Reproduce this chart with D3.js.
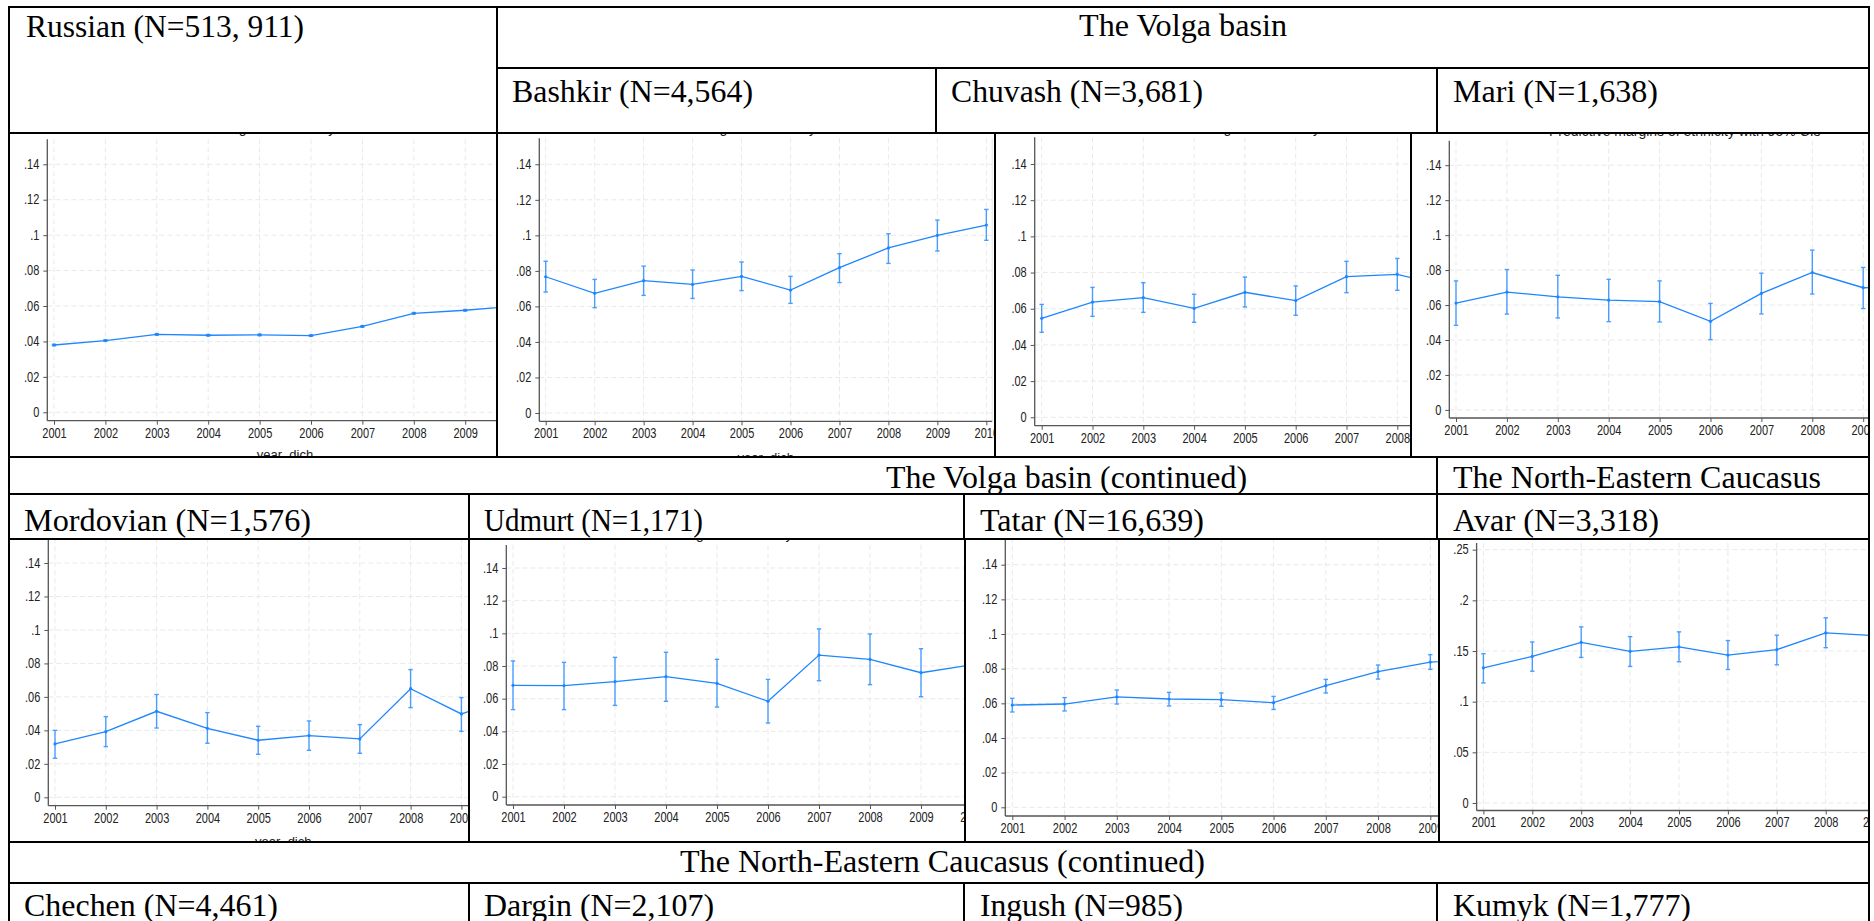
<!DOCTYPE html>
<html><head><meta charset="utf-8">
<script src="https://cdn.jsdelivr.net/npm/d3@7"></script>
<style>body{margin:0;background:#fff;overflow:hidden}svg{display:block}</style>
</head><body>
<svg id="c" width="1874" height="921"></svg>
<script>
// ---------------- DATA ----------------
const years = [2001, 2002, 2003, 2004, 2005, 2006, 2007, 2008, 2009, 2010];
const yTicksMain = [0, 0.02, 0.04, 0.06, 0.08, 0.10, 0.12, 0.14];
const yTicksAvar = [0, 0.05, 0.10, 0.15, 0.20, 0.25];

const russianEst = [0.0380, 0.0405, 0.0440, 0.0435, 0.0437, 0.0433, 0.0485, 0.0559, 0.0576, 0.0600];
const russianLo  = [0.0376, 0.0401, 0.0436, 0.0431, 0.0433, 0.0429, 0.0481, 0.0555, 0.0572, 0.0596];
const russianHi  = [0.0384, 0.0409, 0.0444, 0.0439, 0.0441, 0.0437, 0.0489, 0.0563, 0.0580, 0.0604];

const bashkirEst = [0.0767, 0.0674, 0.0745, 0.0724, 0.0769, 0.0692, 0.0818, 0.0929, 0.1000, 0.1058];
const bashkirLo  = [0.0681, 0.0593, 0.0662, 0.0645, 0.0689, 0.0617, 0.0734, 0.0842, 0.0912, 0.0972];
const bashkirHi  = [0.0854, 0.0752, 0.0827, 0.0805, 0.0850, 0.0769, 0.0897, 0.1009, 0.1086, 0.1146];

const chuvashEst = [0.0547, 0.0637, 0.0661, 0.0602, 0.0691, 0.0645, 0.0777, 0.0790, 0.0724, null];
const chuvashLo  = [0.0470, 0.0558, 0.0580, 0.0525, 0.0610, 0.0564, 0.0689, 0.0702, 0.0645, null];
const chuvashHi  = [0.0624, 0.0718, 0.0744, 0.0680, 0.0775, 0.0726, 0.0862, 0.0878, 0.0805, null];

const mariEst = [0.0611, 0.0674, 0.0647, 0.0628, 0.0619, 0.0507, 0.0667, 0.0786, 0.0699, 0.0700];
const mariLo  = [0.0484, 0.0548, 0.0526, 0.0505, 0.0503, 0.0402, 0.0549, 0.0663, 0.0580, 0.0580];
const mariHi  = [0.0738, 0.0803, 0.0770, 0.0747, 0.0738, 0.0609, 0.0782, 0.0914, 0.0815, 0.0820];

const mordovianEst = [0.0319, 0.0392, 0.0514, 0.0412, 0.0341, 0.0369, 0.0349, 0.0649, 0.0498, 0.0600];
const mordovianLo  = [0.0233, 0.0303, 0.0414, 0.0323, 0.0257, 0.0281, 0.0263, 0.0536, 0.0394, 0.0490];
const mordovianHi  = [0.0400, 0.0482, 0.0614, 0.0506, 0.0424, 0.0456, 0.0434, 0.0763, 0.0596, 0.0710];

const udmurtEst = [0.0682, 0.0680, 0.0704, 0.0735, 0.0694, 0.0584, 0.0867, 0.0841, 0.0759, 0.0808];
const udmurtLo  = [0.0533, 0.0533, 0.0559, 0.0584, 0.0549, 0.0451, 0.0710, 0.0686, 0.0612, 0.0660];
const udmurtHi  = [0.0831, 0.0822, 0.0853, 0.0884, 0.0841, 0.0718, 0.1027, 0.0996, 0.0906, 0.0960];

const tatarEst = [0.0590, 0.0596, 0.0637, 0.0625, 0.0621, 0.0604, 0.0702, 0.0783, 0.0838, 0.0855];
const tatarLo  = [0.0550, 0.0556, 0.0596, 0.0585, 0.0583, 0.0565, 0.0660, 0.0740, 0.0796, 0.0810];
const tatarHi  = [0.0629, 0.0633, 0.0677, 0.0663, 0.0660, 0.0640, 0.0738, 0.0821, 0.0881, 0.0900];

const avarEst = [0.1334, 0.1447, 0.1586, 0.1497, 0.1540, 0.1460, 0.1513, 0.1679, 0.1652, null];
const avarLo  = [0.1185, 0.1301, 0.1437, 0.1348, 0.1394, 0.1318, 0.1364, 0.1533, 0.1500, null];
const avarHi  = [0.1474, 0.1589, 0.1738, 0.1642, 0.1689, 0.1603, 0.1656, 0.1828, 0.1801, null];

const groupNames = ["Russian", "Bashkir", "Chuvash", "Mari", "Mordovian", "Udmurt", "Tatar", "Avar",
                    "Chechen", "Dargin", "Ingush", "Kumyk"];
const groupN = ["513, 911", "4,564", "3,681", "1,638", "1,576", "1,171", "16,639", "3,318",
                "4,461", "2,107", "985", "1,777"];
const regionLabels = ["The Volga basin", "The Volga basin (continued)", "The North-Eastern Caucasus",
                      "The North-Eastern Caucasus (continued)"];
const chartTitle = "Predictive margins of ethnicity with 95% CIs";
const xTitle = "year_dich";

// ---------------- DRAW ----------------
const svg = d3.select("#c");
const BLUE = "#1e86ff";
const SY = 1.25;           // vertical stretch of the pasted chart text
const defs = svg.append("defs");
const fmtY = d => d === 0 ? "0" : String(+d.toFixed(2)).replace(/^0/, "");

function panel(p, est, lo, hi) {
  const clipId = "clip" + p.id;
  defs.append("clipPath").attr("id", clipId).append("rect")
    .attr("x", p.x0).attr("y", p.y0).attr("width", p.x1 - p.x0).attr("height", p.y1 - p.y0);
  const g = svg.append("g").attr("clip-path", `url(#${clipId})`);
  g.append("rect").attr("x", p.x0).attr("y", p.y0).attr("width", p.x1 - p.x0)
    .attr("height", p.y1 - p.y0).attr("fill", "#fff");

  const x = d3.scaleLinear().domain([2001, 2002]).range([p.x2001, p.x2001 + p.step]);
  const y = d3.scaleLinear().domain([0, p.ticks[p.ticks.length - 1]]).range([p.zeroY, p.topY]);
  const plotL = p.ax, plotR = x(2010.12), plotB = p.axY, plotT = p.axTop;

  // grid
  g.append("g").selectAll("line").data(p.ticks).join("line")
    .attr("x1", plotL).attr("x2", plotR).attr("y1", d => y(d)).attr("y2", d => y(d))
    .attr("stroke", "#e9e9e9").attr("stroke-width", 1).attr("stroke-dasharray", "5,3");
  g.append("g").selectAll("line").data(years).join("line")
    .attr("x1", d => x(d)).attr("x2", d => x(d)).attr("y1", plotT).attr("y2", plotB)
    .attr("stroke", "#e9e9e9").attr("stroke-width", 1).attr("stroke-dasharray", "5,3");
  g.append("line").attr("x1", plotR).attr("x2", plotR).attr("y1", plotT).attr("y2", plotB)
    .attr("stroke", "#e4e4e4").attr("stroke-width", 1);

  // y axis
  const gy = g.append("g").attr("transform", `translate(${plotL},0)`)
    .call(d3.axisLeft(y).tickValues(p.ticks).tickSize(4).tickFormat(fmtY));
  gy.select(".domain").remove();
  gy.selectAll(".tick line").attr("stroke", "#555");
  gy.selectAll(".tick text")
    .attr("font-family", "'Liberation Sans', Arial, sans-serif").attr("font-size", 11)
    .attr("fill", "#222").attr("dy", null).attr("x", -8)
    .attr("y", 4.2 / SY).attr("transform", `scale(1,${SY})`);
  g.append("line").attr("x1", plotL).attr("x2", plotL).attr("y1", plotT).attr("y2", plotB)
    .attr("stroke", "#555").attr("stroke-width", 1.3);

  // x axis (labels that fall outside the pasted image are not drawn)
  const visYears = years.filter(d => x(d) - 12 < p.x1);
  const gx = g.append("g").attr("transform", `translate(0,${plotB})`)
    .call(d3.axisBottom(x).tickValues(visYears).tickSize(4).tickFormat(d3.format("d")));
  gx.select(".domain").remove();
  gx.selectAll(".tick line").attr("stroke", "#555");
  gx.selectAll(".tick text")
    .attr("font-family", "'Liberation Sans', Arial, sans-serif").attr("font-size", 11)
    .attr("fill", "#222").attr("dy", null)
    .attr("y", 17 / SY).attr("transform", `scale(1,${SY})`);
  g.append("line").attr("x1", plotL).attr("x2", plotR).attr("y1", plotB).attr("y2", plotB)
    .attr("stroke", "#555").attr("stroke-width", 1.3);

  // series
  const pts = years.map((yr, i) => ({ yr, e: est[i], l: lo[i], h: hi[i] })).filter(d => d.e != null);
  const cap = 2.2;
  const eb = g.append("g").attr("stroke", "#4a9dff").attr("stroke-width", 1.4);
  eb.selectAll(".v").data(pts).join("line")
    .attr("x1", d => x(d.yr)).attr("x2", d => x(d.yr)).attr("y1", d => y(d.l)).attr("y2", d => y(d.h));
  eb.selectAll(".t").data(pts).join("line")
    .attr("x1", d => x(d.yr) - cap).attr("x2", d => x(d.yr) + cap).attr("y1", d => y(d.h)).attr("y2", d => y(d.h));
  eb.selectAll(".b").data(pts).join("line")
    .attr("x1", d => x(d.yr) - cap).attr("x2", d => x(d.yr) + cap).attr("y1", d => y(d.l)).attr("y2", d => y(d.l));
  g.append("path").datum(pts)
    .attr("d", d3.line().x(d => x(d.yr)).y(d => y(d.e)))
    .attr("fill", "none").attr("stroke", BLUE).attr("stroke-width", 1.3);
  g.append("g").selectAll("circle").data(pts).join("circle")
    .attr("cx", d => x(d.yr)).attr("cy", d => y(d.e)).attr("r", 1.6).attr("fill", BLUE);

  // titles (mostly cut off by the cell, as in the pasted images)
  const cx = (plotL + plotR) / 2;
  if (p.titleY != null)
    g.append("text").attr("x", cx).attr("y", p.titleY).attr("text-anchor", "middle")
      .attr("font-family", "'Liberation Sans', Arial, sans-serif").attr("font-size", 14)
      .attr("fill", "#222").text(chartTitle);
  if (p.xtY != null)
    g.append("text").attr("x", cx).attr("y", p.xtY).attr("text-anchor", "middle")
      .attr("font-family", "'Liberation Sans', Arial, sans-serif").attr("font-size", 13)
      .attr("fill", "#222").text(xTitle);
}

const panels = [
  { id: "ru", x0: 10,   x1: 497,  y0: 133, y1: 457, ax: 47.3,  axY: 420.7, zeroY: 412.3, topY: 164.3, x2001: 54,     step: 51.4,  axTop: 139.3, ticks: yTicksMain, titleY: 133, xtY: 459, d: [russianEst, russianLo, russianHi] },
  { id: "ba", x0: 497,  x1: 995,  y0: 133, y1: 457, ax: 539.3, axY: 421.3, zeroY: 413,   topY: 164.3, x2001: 545.7,  step: 48.96, axTop: 138.3, ticks: yTicksMain, titleY: 133, xtY: 462, d: [bashkirEst, bashkirLo, bashkirHi] },
  { id: "ch", x0: 995,  x1: 1411, y0: 133, y1: 457, ax: 1034.7,axY: 425.7, zeroY: 417.3, topY: 164,   x2001: 1041.7, step: 50.8,  axTop: 137.3, ticks: yTicksMain, titleY: 133, xtY: null, d: [chuvashEst, chuvashLo, chuvashHi] },
  { id: "ma", x0: 1411, x1: 1870, y0: 133, y1: 457, ax: 1449.3,axY: 418,   zeroY: 409.9, topY: 165.2, x2001: 1456,   step: 50.9,  axTop: 140.7, ticks: yTicksMain, titleY: 136, xtY: null, d: [mariEst, mariLo, mariHi] },
  { id: "mo", x0: 10,   x1: 469,  y0: 539, y1: 841, ax: 48.3,  axY: 805.7, zeroY: 797.3, topY: 563,   x2001: 55,     step: 50.8,  axTop: 530,   ticks: yTicksMain, titleY: null, xtY: 846, d: [mordovianEst, mordovianLo, mordovianHi] },
  { id: "ud", x0: 469,  x1: 965,  y0: 539, y1: 841, ax: 506.3, axY: 805,   zeroY: 796.7, topY: 568,   x2001: 513,    step: 51,    axTop: 545,   ticks: yTicksMain, titleY: 539, xtY: null, d: [udmurtEst, udmurtLo, udmurtHi] },
  { id: "ta", x0: 965,  x1: 1439, y0: 539, y1: 846, ax: 1005.3,axY: 816,   zeroY: 807.3, topY: 564.7, x2001: 1012.3, step: 52.25, axTop: 530,   ticks: yTicksMain, titleY: null, xtY: null, d: [tatarEst, tatarLo, tatarHi] },
  { id: "av", x0: 1439, x1: 1870, y0: 539, y1: 844, ax: 1476.6,axY: 810.5, zeroY: 803,   topY: 549.7, x2001: 1483.4, step: 48.9,  axTop: 543,   ticks: yTicksAvar, titleY: null, xtY: null, d: [avarEst, avarLo, avarHi] }
];
panels.forEach(p => panel(p, ...p.d));

// ---------------- TABLE ----------------
const T = svg.append("g").attr("stroke", "#000").attr("stroke-width", 2).attr("stroke-linecap", "square");
const hl = (y, x1, x2) => T.append("line").attr("x1", x1).attr("x2", x2).attr("y1", y).attr("y2", y);
const vl = (x, y1, y2) => T.append("line").attr("x1", x).attr("x2", x).attr("y1", y1).attr("y2", y2);
hl(7, 9, 1869); hl(68, 497, 1869); hl(133, 9, 1869); hl(457, 9, 1869); hl(494, 9, 1869);
hl(539, 9, 1869); hl(842, 9, 1869); hl(883, 9, 1869);
vl(9, 7, 925); vl(1869, 7, 925);
vl(497, 7, 457); vl(936, 68, 133); vl(1437, 68, 133);
vl(995, 133, 457); vl(1411, 133, 457);
vl(1437, 457, 494);
vl(469, 494, 539); vl(964, 494, 539); vl(1437, 494, 539);
vl(469, 539, 842); vl(965, 539, 842); vl(1439, 539, 842);
vl(469, 883, 925); vl(964, 883, 925); vl(1437, 883, 925);

const cellText = [
  [groupNames[0] + " (N=" + groupN[0] + ")", 26, 37, 278],
  [regionLabels[0], 1079, 36, 208],
  [groupNames[1] + " (N=" + groupN[1] + ")", 512, 102, 241],
  [groupNames[2] + " (N=" + groupN[2] + ")", 951, 102, 252],
  [groupNames[3] + " (N=" + groupN[3] + ")", 1453, 102, 205],
  [regionLabels[1], 886, 488, 361],
  [regionLabels[2], 1453, 488, 368],
  [groupNames[4] + " (N=" + groupN[4] + ")", 24, 531, 287],
  [groupNames[5] + " (N=" + groupN[5] + ")", 484, 531, 219],
  [groupNames[6] + " (N=" + groupN[6] + ")", 980, 531, 224],
  [groupNames[7] + " (N=" + groupN[7] + ")", 1453, 531, 206],
  [regionLabels[3], 680, 872, 525],
  [groupNames[8] + " (N=" + groupN[8] + ")", 24, 916, 254],
  [groupNames[9] + " (N=" + groupN[9] + ")", 484, 916, 230],
  [groupNames[10] + " (N=" + groupN[10] + ")", 980, 916, 203],
  [groupNames[11] + " (N=" + groupN[11] + ")", 1453, 916, 238]
];
svg.append("g").selectAll("text").data(cellText).join("text")
  .attr("x", d => d[1]).attr("y", d => d[2])
  .attr("textLength", d => d[3]).attr("lengthAdjust", "spacingAndGlyphs")
  .attr("font-family", "'Liberation Serif', 'Times New Roman', serif")
  .attr("font-size", 32).attr("fill", "#000").text(d => d[0]);
</script>
</body></html>
